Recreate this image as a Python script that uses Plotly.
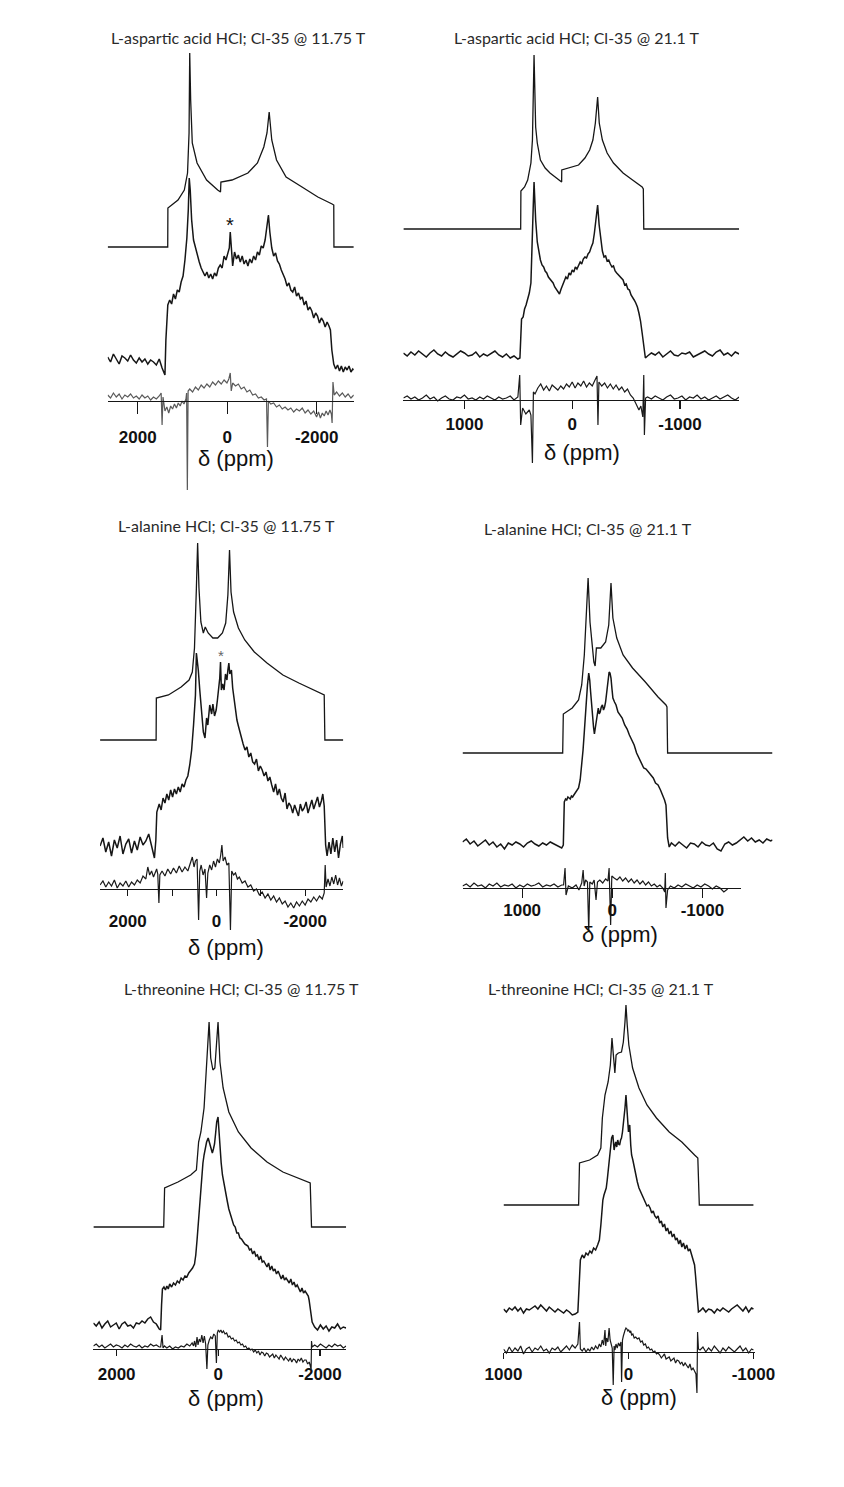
import plotly.graph_objects as go

W, H = 844, 1487

# ---------------- DATA (ppm, intensity in arbitrary units above each trace's own baseline) ----------------
# Panel 1: L-aspartic acid HCl @ 11.75 T
P1_SIM_X = [2672, 1330, 1326, 1100, 959, 887, 853, 838, 817, 781, 674, 461, 213, 150, 141, -107, -463, -676, -818, -889,
            -938, -996, -1102, -1316, -1672, -2026, -2345, -2382, -2386, -2830]
P1_SIM_Y = [0, 0, 39, 47, 57, 74, 114, 194, 147, 104, 84, 67, 57, 55, 65, 67, 74, 84, 100, 114,
            135, 107, 87, 70, 60, 50, 43, 42, 0, 0]
P1_EXP_X = [2672, 2608, 2544, 2480, 2416, 2352, 2288, 2224, 2160, 2096, 2032, 1968, 1904, 1840, 1776, 1712, 1648, 1584, 1520, 1456, 1392,
            1371, 1328, 1286, 1243, 1200, 1158, 1115, 1073, 1030, 987, 945, 902, 870, 849, 827, 795, 753, 710, 667, 625,
            582, 539, 497, 454, 412, 369, 326, 284, 241, 198, 156, 113, 70, 28, -15, -47, -68, -90, -122, -164,
            -207, -249, -292, -335, -377, -420, -463, -505, -548, -591, -633, -676, -719, -761, -804, -847, -889, -921, -953, -996,
            -1038, -1081, -1124, -1166, -1209, -1252, -1294, -1337, -1380, -1422, -1465, -1507, -1550, -1593, -1635, -1678, -1721, -1763, -1806, -1849,
            -1891, -1934, -1977, -2019, -2062, -2105, -2147, -2190, -2233, -2275, -2307, -2339, -2382, -2424, -2467, -2510, -2552, -2595, -2638, -2680,
            -2723, -2766, -2808, -2830]
P1_EXP_Y = [3, -2, 6, 1, -4, 4, 2, -1, 5, 0, -3, 2, -2, 1, -4, 0, -2, -5, 1, -8, -15,
            20, 55, 60, 56, 66, 61, 70, 68, 78, 84, 100, 122, 150, 182, 170, 140, 120, 112, 104, 98,
            92, 88, 84, 88, 82, 86, 81, 87, 84, 92, 95, 92, 104, 100, 108, 112, 128, 110, 94, 108,
            101, 105, 98, 104, 96, 100, 94, 101, 97, 104, 100, 108, 105, 114, 112, 120, 132, 145, 128, 112,
            104, 107, 99, 96, 90, 86, 81, 74, 77, 70, 68, 73, 64, 67, 61, 63, 55, 59, 50, 53,
            49, 42, 47, 44, 37, 42, 39, 33, 38, 34, 30, 10, -4, -9, -5, -11, -6, -12, -7, -10,
            -6, -12, -9, -10]
P1_DIFF_X = [2672, 2608, 2544, 2480, 2416, 2352, 2288, 2224, 2160, 2096, 2032, 1968, 1904, 1840, 1776, 1712, 1648, 1584, 1520, 1477,
             1456, 1435, 1392, 1350, 1307, 1264, 1222, 1179, 1136, 1094, 1051, 1009, 966, 923, 908, 891, 874, 838, 774, 710,
             646, 582, 518, 454, 390, 326, 262, 198, 134, 70, 6, -36, -68, -90, -122, -186, -249, -313, -377, -441,
             -505, -569, -633, -697, -761, -825, -878, -900, -921, -974, -1038, -1102, -1166, -1230, -1294, -1358, -1422, -1486, -1550, -1614,
             -1678, -1742, -1806, -1870, -1934, -1998, -2041, -2083, -2126, -2168, -2211, -2254, -2296, -2328, -2345, -2364, -2392, -2446, -2510, -2574,
             -2638, -2702, -2766, -2830]
P1_DIFF_Y = [6, 3, 8, 4, 7, 2, 6, 4, 7, 3, 5, 2, 6, 3, 5, 1, 4, 2, 5, 8,
             -24, 4, -10, -6, -12, -5, -8, -3, -7, -2, -5, 0, -3, 2, 8, -89, 10, 12, 9, 14,
             11, 16, 13, 17, 14, 19, 16, 20, 17, 21, 18, 22, 28, 10, 18, 15, 17, 12, 14, 9,
             11, 6, 7, 3, 4, 1, 2, -46, 0, -3, -2, -6, -4, -8, -6, -9, -7, -11, -8, -10,
             -7, -12, -9, -13, -10, -16, -11, -17, -12, -15, -10, -14, -9, -13, -22, 19, 6, 9, 5, 8,
             4, 7, 3, 6]

# Panel 2: L-aspartic acid HCl @ 21.1 T
P2_SIM_X = [1566, 478, 476, 442, 413, 383, 369, 354, 339, 324, 295, 251, 206, 147, 103, 98, 97, 29, -59, -118,
            -162, -192, -215, -236, -251, -280, -324, -383, -472, -560, -649, -660, -664, -1549]
P2_SIM_Y = [0, 0, 38, 42, 49, 66, 89, 174, 102, 86, 69, 61, 56, 51, 47, 47, 59, 61, 64, 71,
            79, 89, 106, 132, 106, 89, 76, 66, 56, 49, 42, 40, 0, 0]
P2_BASE_L = [1566, 1531, 1496, 1460, 1425, 1389, 1354, 1319, 1283, 1248, 1212, 1177, 1142, 1106, 1071, 1035, 1000, 965, 929, 894,
             858, 823, 788, 752, 717, 681, 646, 611, 575, 540, 504]
P2_BASE_R = [-699, -735, -770, -805, -841, -876, -912, -947, -982, -1018, -1053, -1089, -1124, -1159, -1195, -1230, -1266, -1301, -1336, -1372,
             -1407, -1443, -1478, -1513, -1549]
P2_EXP_MID_X = [485, 478, 470, 455, 442, 428, 413, 398, 383, 369, 361, 354, 347, 339, 324, 310, 295, 280, 265, 251,
                236, 221, 206, 192, 177, 162, 147, 133, 118, 103, 88, 74, 59, 44, 29, 15, 0, -15, -29, -44,
                -59, -74, -88, -103, -118, -133, -147, -162, -177, -192, -206, -221, -236, -250, -265, -280, -295, -310, -324, -339,
                -354, -369, -383, -398, -413, -428, -442, -457, -472, -487, -501, -516, -531, -546, -560, -575, -590, -605, -619, -634,
                -649, -664, -679]
P2_EXP_L_Y = [2, -1, 3, 0, 4, 1, -2, 2, 5, 1, -1, 3, 0, -2, 1, 4, 2, -1, 0, 3, -2, 1, -1, 2, 4, 0, -2, 1, -3, -1, -4]
P2_EXP_MID_Y = [-3, 30, 36, 38, 46, 50, 55, 62, 72, 110, 150, 173, 150, 135, 113, 102, 95, 90, 88, 84,
                82, 78, 76, 73, 72, 68, 66, 63, 61, 66, 70, 74, 78, 76, 82, 80, 85, 83, 88, 86,
                89, 93, 91, 96, 98, 97, 101, 103, 108, 112, 122, 135, 150, 130, 116, 104, 98, 99, 94, 95,
                91, 88, 89, 84, 82, 80, 78, 76, 75, 70, 71, 66, 65, 60, 58, 55, 52, 48, 42, 34,
                22, 8, -3]
P2_EXP_R_Y = [-1, 2, 0, 3, -2, 1, 4, 0, -1, 2, 1, 3, -2, 0, 2, 4, 1, -1, 3, 5, 0, 2, -1, 3, 1]
P2_DIFF_MID_X = [487, 478, 460, 430, 398, 383, 369, 360, 345, 319, 292, 265, 239, 212, 186, 159, 133, 106, 80, 53,
                 27, 0, -27, -53, -80, -106, -133, -159, -186, -212, -230, -239, -248, -274, -301, -327, -354, -381, -407, -434,
                 -460, -487, -513, -540, -566, -593, -619, -637, -655, -664, -670, -681]
P2_DIFF_L_Y = [2, 4, 1, 3, 0, 2, 5, 1, 3, -1, 2, 4, 1, 0, 3, 2, 5, 1, 2, 0, 3, 1, 4, 2, 0, 3, 1, 2, 4, 0, 3]
P2_DIFF_MID_Y = [25, -25, -8, -14, -10, -15, -63, 8, 6, 12, 16, 10, 14, 9, 15, 12, 10, 14, 11, 16,
                 13, 18, 12, 17, 14, 19, 13, 17, 14, 20, 24, -25, 18, 14, 17, 12, 16, 11, 15, 10,
                 13, 8, 11, 5, 2, -4, -10, -6, -17, 25, -35, 2]
P2_DIFF_R_Y = [3, 1, 4, 2, 0, 3, 5, 1, 2, 4, 0, 3, 2, 5, 1, 3, 0, 2, 4, 1, 3, 5, 2, 0, 3]

# Panel 3: L-alanine HCl @ 11.75 T
P3_SIM_X = [2624, 1360, 1355, 1082, 796, 617, 544, 495, 452, 424, 394, 351, 295, 252, 187, 80, -28, -135, -209, -258,
            -295, -329, -387, -495, -639, -854, -1140, -1499, -1858, -2215, -2394, -2430, -2445, -2860]
P3_SIM_Y = [0, 0, 42, 45, 53, 60, 68, 92, 152, 197, 152, 118, 107, 113, 107, 102, 102, 107, 117, 145,
            190, 148, 128, 112, 100, 88, 77, 65, 57, 50, 46, 45, 0, 0]
P3_EXP_X = [2624, 2559, 2495, 2430, 2366, 2301, 2237, 2172, 2108, 2043, 1978, 1914, 1849, 1785, 1720, 1656, 1591, 1527, 1462, 1398,
            1366, 1344, 1290, 1247, 1204, 1161, 1118, 1075, 1032, 989, 946, 903, 860, 817, 774, 731, 688, 645, 602, 559,
            516, 473, 452, 409, 376, 351, 323, 295, 258, 222, 194, 151, 108, 80, 43, 6, -22, -49, -75, -92,
            -112, -140, -172, -204, -237, -258, -280, -301, -338, -366, -398, -430, -462, -495, -538, -570, -602, -645, -688, -731,
            -774, -817, -860, -903, -946, -989, -1032, -1075, -1118, -1161, -1204, -1247, -1290, -1333, -1376, -1419, -1462, -1505, -1548, -1591,
            -1634, -1677, -1720, -1763, -1806, -1849, -1892, -1935, -1978, -2022, -2065, -2108, -2151, -2194, -2237, -2280, -2323, -2366, -2398, -2430,
            -2462, -2495, -2538, -2581, -2624, -2667, -2710, -2753, -2796, -2839, -2860]
P3_EXP_Y = [4, 12, -2, 8, -6, 10, 2, 14, -4, 6, 11, -3, 9, 0, 13, 5, 9, 16, 4, -8,
            10, 38, 46, 40, 52, 47, 56, 50, 60, 53, 61, 56, 63, 58, 66, 63, 70, 74, 85, 100,
            125, 155, 197, 180, 160, 145, 130, 118, 112, 132, 125, 145, 136, 146, 134, 140, 150, 160, 172, 188,
            160, 166, 160, 176, 170, 180, 187, 176, 180, 162, 150, 138, 130, 124, 116, 112, 106, 100, 103, 93,
            97, 88, 86, 91, 79, 84, 80, 74, 78, 69, 73, 65, 58, 66, 55, 61, 52, 48, 57, 41,
            47, 44, 37, 45, 40, 34, 46, 39, 42, 48, 37, 44, 50, 41, 47, 53, 43, 49, 56, 44,
            5, -6, 8, -4, 12, -2, 10, -8, 6, 14, 2]
P3_DIFF_X = [2624, 2559, 2495, 2430, 2366, 2301, 2237, 2172, 2108, 2043, 1978, 1914, 1849, 1785, 1720, 1656, 1591, 1548, 1505, 1462,
             1419, 1376, 1348, 1323, 1297, 1276, 1226, 1161, 1097, 1032, 968, 903, 839, 774, 710, 645, 591, 544, 505, 473,
             437, 402, 376, 344, 301, 258, 222, 194, 151, 108, 65, 22, -22, -65, -97, -123, -151, -194, -237, -280,
             -316, -344, -387, -430, -473, -516, -581, -645, -710, -774, -839, -903, -968, -1032, -1097, -1161, -1226, -1290, -1355, -1419,
             -1484, -1548, -1613, -1677, -1742, -1806, -1871, -1935, -2000, -2065, -2129, -2194, -2258, -2323, -2387, -2430, -2452, -2473, -2516, -2559,
             -2602, -2645, -2688, -2731, -2774, -2817, -2860]
P3_DIFF_Y = [4, 8, 2, 7, 3, 9, 1, 6, 3, 8, 2, 7, 4, 9, 6, 13, 10, 22, 14, 18,
             12, 16, 20, 15, -14, 14, 18, 13, 20, 15, 21, 16, 23, 17, 22, 18, 26, 32, 22, 28,
             30, -31, 18, 24, 14, 20, -9, 16, 24, 19, 28, 22, 30, 26, 34, 44, 28, 32, 24, 26,
             -41, 18, 14, 16, 10, 12, 6, 8, 2, 4, -2, 0, -6, -3, -9, -5, -11, -7, -13, -9,
             -15, -12, -18, -14, -19, -13, -17, -12, -16, -10, -13, -8, -12, -7, -10, -4, 24, 2, 10, 3,
             12, 5, 14, 4, 11, 3, 8]

# Panel 4: L-alanine HCl @ 21.1 T
P4_SIM_X = [1661, 550, 543, 444, 374, 339, 310, 289, 268, 247, 225, 204, 190, 176, 127, 74, 39, 14, -7, -50,
            -120, -225, -367, -508, -596, -607, -614, -1778]
P4_SIM_Y = [0, 0, 39, 45, 53, 68, 98, 131, 175, 131, 108, 91, 87, 105, 105, 111, 128, 170, 135, 115,
            98, 85, 71, 56, 48, 46, 0, 0]
P4_BASE_L = [1661, 1619, 1577, 1534, 1492, 1450, 1407, 1365, 1323, 1280, 1238, 1196, 1153, 1111, 1069, 1026, 984, 942, 899, 857,
             815, 772, 730, 688, 646, 603, 561]
P4_BASE_R = [-656, -698, -741, -783, -825, -868, -910, -952, -995, -1037, -1079, -1122, -1164, -1206, -1249, -1291, -1333, -1376, -1418, -1460,
             -1503, -1545, -1587, -1630, -1672, -1714, -1757, -1778]
P4_EXP_MID_X = [543, 532, 518, 505, 492, 479, 466, 453, 440, 426, 413, 400, 387, 374, 356, 339, 324, 310, 300, 289,
                275, 261, 250, 240, 230, 219, 208, 198, 187, 176, 165, 155, 145, 134, 122, 109, 97, 85, 74, 63,
                50, 35, 25, 14, 3, -7, -25, -42, -63, -85, -110, -138, -165, -190, -215, -243, -270, -296, -322, -349,
                -375, -402, -428, -455, -480, -508, -535, -561, -580, -596, -614, -632]
P4_EXP_L_Y = [3, 6, 1, 4, -1, 2, 5, 0, 3, -2, 1, -4, 2, 0, 3, 1, -2, 2, 4, 1, -1, 2, 0, 3, 1, -1, -3]
P4_EXP_MID_Y = [0, 43, 46, 45, 48, 47, 46, 49, 48, 50, 52, 54, 55, 57, 65, 80, 95, 113, 128, 143,
                160, 172, 165, 153, 140, 127, 118, 111, 118, 127, 133, 137, 131, 133, 138, 140, 135, 138, 143, 150,
                160, 173, 172, 167, 156, 147, 143, 140, 133, 130, 127, 120, 116, 110, 106, 100, 92, 87, 82, 77,
                76, 73, 69, 67, 62, 60, 55, 50, 45, 40, 7, -2]
P4_EXP_R_Y = [2, -1, 3, 0, -3, 2, 1, -2, 3, 0, -1, 2, -4, -6, 1, 3, 0, 2, 5, 8, 4, 7, 3, 5, 2, 6, 4, 5]
P4_DIFF_MID_X = [540, 524, 513, 487, 444, 402, 370, 339, 323, 312, 296, 275, 261, 249, 222, 201, 180, 164, 138, 106,
                 74, 48, 35, 18, 5, -21, -53, -85, -116, -148, -180, -212, -243, -275, -307, -339, -370, -402, -434, -466,
                 -497, -529, -561, -582, -589, -596, -614, -646, -688, -730, -772, -815, -857, -899, -942, -984, -1026, -1069, -1111, -1153,
                 -1196, -1238, -1280]
P4_DIFF_L_Y = [2, 4, 1, 5, 2, 3, 0, 4, 2, 5, 1, 3, 2, 4, 0, 3, 1, 4, 2, 3, 5, 1, 3, 2, 4, 1, 3]
P4_DIFF_MID_Y = [3, 20, -7, 2, 0, 3, -2, 5, 18, 2, 8, 6, -44, 6, 4, 8, -12, 6, 8, 5,
                 9, 7, 20, -37, 12, 10, 8, 11, 7, 10, 6, 9, 5, 8, 4, 7, 3, 6, 2, 4,
                 1, 3, 0, -4, 15, -20, -2, 2, 0, 3, 1, 4, 2, 0, 3, 1, 4, 2, -1, 2,
                 0, -4, -1]

# Panel 5: L-threonine HCl @ 11.75 T
P5_SIM_X = [2458, 1075, 1057, 794, 544, 432, 388, 343, 281, 231, 182, 150, 107, 69, 38, 6, -32, -94, -206, -394,
            -644, -957, -1270, -1582, -1769, -1807, -1833, -2514]
P5_SIM_Y = [0, 0, 39, 45, 52, 57, 85, 95, 119, 165, 205, 169, 157, 159, 179, 205, 165, 139, 115, 95,
            79, 65, 55, 49, 45, 44, 0, 0]
P5_BASE_L = [2458, 2402, 2345, 2289, 2233, 2176, 2120, 2064, 2008, 1951, 1895, 1839, 1782, 1726, 1670, 1614, 1557, 1501, 1445, 1388,
             1332, 1276, 1220, 1163]
P5_BASE_R = [-1895, -1951, -2008, -2064, -2120, -2176, -2233, -2289, -2345, -2402, -2458, -2514]
P5_EXP_MID_X = [1135, 1117, 1100, 1070, 1041, 1013, 985, 957, 919, 882, 844, 807, 769, 732, 694, 657, 619, 582, 544, 507,
                469, 444, 419, 395, 370, 347, 325, 303, 281, 256, 231, 200, 178, 156, 137, 118, 97, 75, 53, 32,
                6, -13, -32, -56, -81, -113, -144, -175, -206, -238, -270, -301, -332, -363, -394, -425, -456, -488, -519, -550,
                -582, -613, -644, -676, -707, -738, -769, -801, -832, -863, -894, -926, -957, -988, -1019, -1051, -1082, -1113, -1144, -1176,
                -1207, -1238, -1270, -1301, -1332, -1364, -1395, -1426, -1457, -1489, -1520, -1551, -1582, -1614, -1645, -1676, -1707, -1738, -1769, -1785,
                -1801, -1823, -1845]
P5_EXP_L_Y = [2, -1, 3, -3, 1, 4, -2, 0, 2, -4, 1, 3, -1, 0, -3, 2, 1, 4, 2, 6, 8, 3, 1, -4]
P5_EXP_MID_Y = [-5, 20, 36, 38, 35, 39, 36, 41, 38, 42, 40, 44, 42, 47, 45, 49, 48, 52, 54, 57,
                61, 70, 85, 102, 118, 135, 150, 162, 170, 178, 183, 187, 183, 180, 176, 172, 176, 181, 192, 203,
                208, 190, 177, 162, 150, 140, 133, 124, 116, 110, 105, 100, 98, 92, 92, 87, 86, 83, 81, 80,
                79, 75, 76, 71, 74, 69, 70, 65, 69, 63, 64, 61, 58, 62, 55, 59, 54, 56, 51, 54,
                49, 46, 50, 45, 47, 44, 42, 46, 40, 43, 38, 40, 36, 33, 37, 32, 34, 31, 29, 25,
                18, 10, 3]
P5_EXP_R_Y = [-2, -5, 0, -4, -1, -6, -2, -3, 1, -4, -2, -3]
P5_DIFF_MID_X = [1135, 1107, 1088, 1060, 1013, 957, 900, 844, 788, 732, 676, 619, 563, 516, 488, 469, 444, 419, 400, 375,
                 350, 325, 300, 275, 250, 225, 206, 178, 150, 120, 90, 60, 38, 20, 0, -25, -50, -75, -100, -131,
                 -163, -194, -225, -256, -288, -319, -350, -381, -413, -444, -475, -506, -538, -569, -600, -632, -663, -694, -726, -757,
                 -788, -819, -851, -882, -913, -944, -976, -1007, -1038, -1070, -1101, -1132, -1163, -1195, -1226, -1257, -1289, -1320, -1351, -1382,
                 -1414, -1445, -1476, -1507, -1539, -1570, -1601, -1632, -1664, -1695, -1726, -1757, -1788, -1810, -1825, -1833, -1845]
P5_DIFF_L_Y = [3, 5, 2, 4, 1, 3, 5, 2, 4, 3, 1, 4, 2, 5, 3, 2, 4, 1, 3, 2, 5, 3, 4, 2]
P5_DIFF_MID_Y = [2, 14, 1, 3, 1, 3, 0, 2, 1, 3, 2, 5, 3, 6, 3, 8, 2, 12, 4, 10,
                 7, 14, 6, 13, 5, -20, 4, 9, 12, 10, 15, 13, -14, 16, 19, 17, 19, 16, 18, 15,
                 16, 12, 13, 10, 11, 8, 9, 6, 7, 4, 5, 2, 3, 0, 1, -1, 0, -3, -1, -4,
                 -2, -6, -3, -4, -7, -4, -5, -8, -6, -5, -9, -6, -8, -10, -6, -9, -11, -8, -10, -12,
                 -9, -13, -10, -11, -14, -10, -12, -9, -13, -11, -11, -15, -13, -17, -20, 8, 2]
P5_DIFF_R_Y = [4, 2, 5, 3, 1, 4, 2, 5, 3, 4, 1, 3]

# Panel 6: L-threonine HCl @ 21.1 T
P6_SIM_X = [1000, 399, 392, 311, 247, 221, 209, 188, 163, 145, 132, 120, 109, 99, 81, 56, 41, 28, 20, 10,
            -3, -33, -84, -148, -224, -326, -427, -529, -555, -567, -1000]
P6_SIM_Y = [0, 0, 42, 45, 50, 57, 87, 110, 123, 140, 167, 150, 132, 150, 152, 153, 163, 183, 200, 180,
            160, 137, 117, 100, 87, 73, 63, 50, 47, 0, 0]
P6_BASE_L = [1000, 977, 954, 931, 908, 885, 863, 840, 817, 794, 771, 748, 725, 702, 679, 656, 634, 611, 588, 565,
             542, 519, 496, 473, 450, 427, 405]
P6_BASE_R = [-573, -596, -619, -641, -664, -687, -710, -733, -756, -779, -802, -825, -848, -870, -893, -916, -939, -962, -985, -1000]
P6_EXP_MID_X = [392, 385, 370, 355, 340, 324, 309, 294, 279, 263, 247, 233, 221, 214, 205, 196, 187, 178, 170, 163,
                155, 147, 141, 135, 125, 115, 108, 102, 94, 86, 79, 71, 63, 56, 48, 41, 34, 28, 20, 14,
                10, 5, 0, -5, -10, -18, -25, -35, -46, -58, -71, -84, -97, -110, -122, -135, -148, -160, -173, -186,
                -198, -211, -224, -237, -250, -263, -275, -288, -301, -313, -326, -339, -351, -364, -377, -389, -402, -415, -427, -440,
                -453, -466, -479, -492, -504, -517, -529, -537, -545, -553, -560]
P6_EXP_L_Y = [1, -2, 2, 0, 3, -1, 2, -3, 1, 0, 2, 4, 1, 5, 2, -1, 3, 0, -2, 1, -1, -3, 0, -2, -5, -4, -2]
P6_EXP_MID_Y = [30, 50, 55, 52, 57, 55, 59, 57, 62, 60, 65, 70, 85, 102, 110, 115, 118, 122, 130, 138,
                146, 155, 165, 172, 175, 160, 165, 168, 163, 170, 166, 165, 170, 172, 178, 185, 194, 202, 215, 205,
                195, 185, 178, 183, 185, 165, 155, 150, 142, 134, 128, 122, 118, 114, 110, 108, 104, 105, 102, 97,
                99, 94, 92, 94, 87, 89, 83, 86, 79, 82, 76, 79, 73, 76, 70, 72, 66, 70, 63, 67,
                61, 65, 59, 61, 56, 52, 45, 34, 22, 8, -2]
P6_EXP_R_Y = [-1, 2, -2, 1, 0, -3, 1, -1, 2, 0, -2, 1, 3, 5, 2, -1, 3, -2, 2, 1]
P6_DIFF_MID_X = [392, 385, 370, 355, 340, 324, 309, 294, 279, 263, 247, 233, 221, 210, 199, 188, 182, 175, 165, 155,
                 147, 138, 130, 122, 115, 108, 100, 90, 80, 70, 60, 55, 48, 41, 34, 27, 20, 12, 5, -2,
                 -10, -18, -25, -35, -46, -58, -71, -84, -97, -110, -122, -135, -148, -160, -173, -186, -198, -211, -224, -237,
                 -250, -263, -275, -288, -301, -313, -326, -339, -351, -364, -377, -389, -402, -415, -427, -440, -453, -466, -479, -492,
                 -504, -517, -529, -540, -548, -553, -560]
P6_DIFF_L_Y = [3, -1, 5, 0, 4, 1, 6, -2, 3, 5, 0, 4, 2, 6, 1, 3, -1, 4, 2, 5, 0, 3, 6, 2, 7, 4, 8]
P6_DIFF_MID_Y = [30, 3, 1, 4, 0, 3, 1, 5, 2, 6, 3, 8, 5, 12, 7, 22, 6, 14, 10, 24,
                 12, 8, 4, -33, 6, 2, 8, 4, 9, 6, 10, -30, 12, 16, 20, 22, 24, 23, 21, 22,
                 20, 21, 17, 18, 14, 15, 13, 14, 10, 11, 7, 8, 4, 5, 2, 3, 0, 1, -2, -1,
                 -3, -6, -4, -2, -7, -6, -5, -9, -7, -6, -11, -8, -9, -12, -10, -14, -11, -13, -16, -12,
                 -18, -16, -20, -22, -41, 20, 3]
P6_DIFF_R_Y = [2, 5, 0, 4, 1, 6, 2, -1, 4, 1, 5, 2, 0, 3, 6, 1, 4, -1, 3, 2]

TITLES = ["L-aspartic acid HCl; Cl-35 @ 11.75 T", "L-aspartic acid HCl; Cl-35 @ 21.1 T",
          "L-alanine HCl; Cl-35 @ 11.75 T", "L-alanine HCl; Cl-35 @ 21.1 T",
          "L-threonine HCl; Cl-35 @ 11.75 T", "L-threonine HCl; Cl-35 @ 21.1 T"]
TICKS = [[2000, 0, -2000], [1000, 0, -1000], [2000, 1000, 0, -1000, -2000],
         [1000, 0, -1000], [2000, 0, -2000], [1000, 0, -1000]]
TICK_TEXT = [["2000", "0", "-2000"], ["1000", "0", "-1000"], ["2000", "", "0", "", "-2000"],
             ["1000", "0", "-1000"], ["2000", "0", "-2000"], ["1000", "0", "-1000"]]
STAR_PPM = {0: -68, 2: -92}   # peaks marked with *
AXIS_LABEL = "δ (ppm)"

# assemble the split series
P2_EXP_X = P2_BASE_L + P2_EXP_MID_X + P2_BASE_R
P2_EXP_Y = P2_EXP_L_Y + P2_EXP_MID_Y + P2_EXP_R_Y
P2_DIFF_X = P2_BASE_L + P2_DIFF_MID_X + P2_BASE_R
P2_DIFF_Y = P2_DIFF_L_Y + P2_DIFF_MID_Y + P2_DIFF_R_Y
P4_EXP_X = P4_BASE_L + P4_EXP_MID_X + P4_BASE_R
P4_EXP_Y = P4_EXP_L_Y + P4_EXP_MID_Y + P4_EXP_R_Y
P4_DIFF_X = P4_BASE_L + P4_DIFF_MID_X
P4_DIFF_Y = P4_DIFF_L_Y + P4_DIFF_MID_Y
P5_EXP_X = P5_BASE_L + P5_EXP_MID_X + P5_BASE_R
P5_EXP_Y = P5_EXP_L_Y + P5_EXP_MID_Y + P5_EXP_R_Y
P5_DIFF_X = P5_BASE_L + P5_DIFF_MID_X + P5_BASE_R
P5_DIFF_Y = P5_DIFF_L_Y + P5_DIFF_MID_Y + P5_DIFF_R_Y
P6_EXP_X = P6_BASE_L + P6_EXP_MID_X + P6_BASE_R
P6_EXP_Y = P6_EXP_L_Y + P6_EXP_MID_Y + P6_EXP_R_Y
P6_DIFF_X = P6_BASE_L + P6_DIFF_MID_X + P6_BASE_R
P6_DIFF_Y = P6_DIFF_L_Y + P6_DIFF_MID_Y + P6_DIFF_R_Y

SERIES = [
    (P1_SIM_X, P1_SIM_Y, P1_EXP_X, P1_EXP_Y, P1_DIFF_X, P1_DIFF_Y),
    (P2_SIM_X, P2_SIM_Y, P2_EXP_X, P2_EXP_Y, P2_DIFF_X, P2_DIFF_Y),
    (P3_SIM_X, P3_SIM_Y, P3_EXP_X, P3_EXP_Y, P3_DIFF_X, P3_DIFF_Y),
    (P4_SIM_X, P4_SIM_Y, P4_EXP_X, P4_EXP_Y, P4_DIFF_X, P4_DIFF_Y),
    (P5_SIM_X, P5_SIM_Y, P5_EXP_X, P5_EXP_Y, P5_DIFF_X, P5_DIFF_Y),
    (P6_SIM_X, P6_SIM_Y, P6_EXP_X, P6_EXP_Y, P6_DIFF_X, P6_DIFF_Y),
]

# ---------------- LAYOUT (pixel geometry of each panel) ----------------
GEOM = [
    dict(zero=218.3, s=0.0469, data=(93, 351), ruler=(93, 351), ytop=45, ybot=494, axis=401,
         sim_off=154, exp_off=41, ticklen=12, standoff=8, title=(230, 37), lab=(227, 458), diff_color="#5a5a5a"),
    dict(zero=580, s=0.113, data=(403, 755), ruler=(403, 755), ytop=48, ybot=470, axis=400,
         sim_off=171, exp_off=45, ticklen=8, standoff=0, title=(585, 37), lab=(590, 452), diff_color="#1a1a1a"),
    dict(zero=207, s=0.0465, data=(85, 340), ruler=(85, 340), ytop=536, ybot=936, axis=889,
         sim_off=149, exp_off=39, ticklen=6, standoff=10, title=(218, 525), lab=(217, 948), diff_color="#1a1a1a"),
    dict(zero=622, s=0.0945, data=(465, 790), ruler=(465, 757), ytop=570, ybot=936, axis=888,
         sim_off=135, exp_off=43, ticklen=9, standoff=-3, title=(597, 528), lab=(630, 934), diff_color="#1a1a1a"),
    dict(zero=209, s=0.0533, data=(78, 343), ruler=(78, 343), ytop=1015, ybot=1400, axis=1349,
         sim_off=122, exp_off=24, ticklen=6, standoff=3, title=(233, 988), lab=(217, 1398), diff_color="#1a1a1a"),
    dict(zero=639, s=0.131, data=(508, 772), ruler=(508, 772), ytop=998, ybot=1402, axis=1352,
         sim_off=147, exp_off=42, ticklen=6, standoff=0, title=(610, 988), lab=(650, 1397), diff_color="#1a1a1a"),
]

LINE = "#161616"
TICK_FONT = dict(family="Liberation Sans, Arial, sans-serif", size=17, color="#111111", weight="bold")
TITLE_FONT = dict(family="Lato, Open Sans, sans-serif", size=16, color="#2a2a2a")
LABEL_FONT = dict(family="Liberation Sans, Arial, sans-serif", size=22, color="#111111")

fig = go.Figure()
layout = dict(width=W, height=H, autosize=False, margin=dict(l=0, r=0, t=0, b=0, pad=0),
              paper_bgcolor="white", plot_bgcolor="rgba(0,0,0,0)", showlegend=False)
annotations = []


def ppm_at(g, px):
    return (g["zero"] - px) / g["s"]


for i, (g, ser) in enumerate(zip(GEOM, SERIES)):
    sx, sy, ex, ey, dx, dy = ser
    xd = 2 * i + 1
    xr = 2 * i + 2
    yi = i + 1
    xd_ref = "x" if xd == 1 else f"x{xd}"
    xr_ref = f"x{xr}"
    y_ref = "y" if yi == 1 else f"y{yi}"
    xd_key = "xaxis" if xd == 1 else f"xaxis{xd}"
    xr_key = f"xaxis{xr}"
    y_key = "yaxis" if yi == 1 else f"yaxis{yi}"

    layout[xd_key] = dict(domain=[g["data"][0] / W, g["data"][1] / W],
                          range=[ppm_at(g, g["data"][0]), ppm_at(g, g["data"][1])],
                          visible=False, anchor=y_ref)
    layout[xr_key] = dict(domain=[g["ruler"][0] / W, g["ruler"][1] / W],
                          range=[ppm_at(g, g["ruler"][0]), ppm_at(g, g["ruler"][1])],
                          anchor="free", position=1 - g["axis"] / H, side="bottom",
                          showline=True, linecolor=LINE, linewidth=1.1,
                          ticks="outside", ticklen=g["ticklen"], tickwidth=1.1, tickcolor=LINE,
                          tickvals=TICKS[i], ticktext=TICK_TEXT[i], tickfont=TICK_FONT,
                          ticklabelstandoff=g["standoff"],
                          showgrid=False, zeroline=False)
    layout[y_key] = dict(domain=[1 - g["ybot"] / H, 1 - g["ytop"] / H],
                         range=[g["axis"] - g["ybot"], g["axis"] - g["ytop"]],
                         visible=False, anchor=xd_ref)

    fig.add_trace(go.Scatter(x=sx, y=[v + g["sim_off"] for v in sy], mode="lines",
                             line=dict(color=LINE, width=1.3), xaxis=xd_ref, yaxis=y_ref, hoverinfo="skip"))
    fig.add_trace(go.Scatter(x=ex, y=[v + g["exp_off"] for v in ey], mode="lines",
                             line=dict(color=LINE, width=1.5), xaxis=xd_ref, yaxis=y_ref, hoverinfo="skip"))
    fig.add_trace(go.Scatter(x=dx, y=dy, mode="lines",
                             line=dict(color=g["diff_color"], width=1.2), xaxis=xr_ref, yaxis=y_ref, hoverinfo="skip"))

    annotations.append(dict(text=TITLES[i], x=g["title"][0] / W, y=1 - g["title"][1] / H,
                            xref="paper", yref="paper", xanchor="center", yanchor="middle",
                            showarrow=False, font=TITLE_FONT))
    annotations.append(dict(text=AXIS_LABEL, x=g["lab"][0] / W, y=1 - g["lab"][1] / H,
                            xref="paper", yref="paper", xanchor="center", yanchor="middle",
                            showarrow=False, font=LABEL_FONT, borderpad=0))

    if i in STAR_PPM:
        target = STAR_PPM[i]
        k = min(range(len(ex)), key=lambda j: abs(ex[j] - target))
        annotations.append(dict(text="*", x=ex[k], y=ey[k] + g["exp_off"], xref=xd_ref, yref=y_ref,
                                xanchor="center", yanchor="bottom", yshift=-6 if i == 0 else -4,
                                showarrow=False,
                                font=dict(family="Liberation Sans, Arial, sans-serif",
                                          size=20 if i == 0 else 15,
                                          color="#111111" if i == 0 else "#666666")))

layout["annotations"] = annotations
fig.update_layout(**layout)
fig.write_html("out.html",
               config={"displayModeBar": False, "staticPlot": True},
               post_script="document.body.style.margin='0px';document.body.style.padding='0px';"
                           "document.body.style.overflow='hidden';")
